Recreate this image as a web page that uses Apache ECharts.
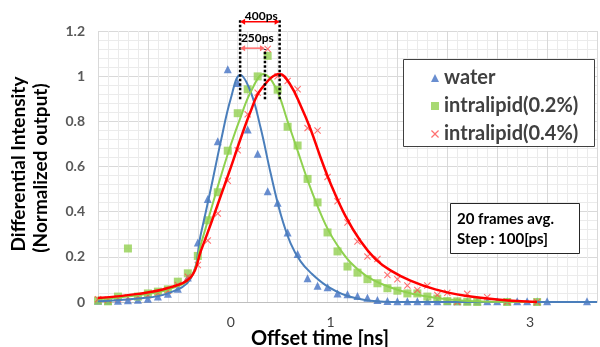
<!DOCTYPE html>
<html>
<head>
<meta charset="utf-8">
<script src="https://cdn.jsdelivr.net/npm/echarts@6/dist/echarts.min.js"></script>
<style>
  html, body { margin: 0; padding: 0; background: #fff; }
  #chart { width: 600px; height: 347px; }
</style>
</head>
<body>
<div id="chart"></div>
<script>
// sample times [ns], one frame every 100 ps
const times = [-1.33, -1.23, -1.13, -1.03, -0.93, -0.83, -0.73, -0.63, -0.53, -0.43,
  -0.33, -0.23, -0.13, -0.03, 0.07, 0.17, 0.27, 0.37, 0.47, 0.57,
  0.67, 0.77, 0.87, 0.97, 1.07, 1.17, 1.27, 1.37, 1.47, 1.57,
  1.67, 1.77, 1.87, 1.97, 2.07, 2.17, 2.27, 2.37, 2.47, 2.57,
  2.67, 2.77, 2.87, 2.97, 3.07, 3.17, 3.27, 3.37, 3.47, 3.57]

// measured points (null = not visible)
const water = [0.005, 0.005, 0.005, 0.008, 0.01, 0.014, 0.024, 0.036, 0.059, 0.108,
  0.264, 0.456, 0.712, 1.031, 0.97, 0.764, 0.657, 0.49, 0.439, 0.308,
  0.213, 0.105, 0.072, 0.065, 0.038, 0.034, 0.027, 0.019, 0.009, 0.004,
  0.003, 0.003, 0.003, 0.003, 0.003, 0.003, 0.003, 0.003, 0.003, 0.003,
  0.003, 0.003, 0.003, 0.003, 0.003, 0.003, null, null, null, 0.003]
const lipid02 = [0.006, 0.003, 0.024, 0.237, 0.024, 0.038, 0.046, 0.056, 0.09, 0.127,
  0.204, 0.362, 0.486, 0.67, 0.836, 0.942, 0.999, 1.09, 0.94, 0.776,
  0.693, 0.545, 0.441, 0.308, 0.224, 0.157, 0.13, 0.101, 0.083, 0.061,
  0.05, 0.038, 0.038, 0.024, 0.015, 0.004, 0.003, 0.001, 0.0, null,
  null, 0.0, null, null, 0.0]
const lipid04 = [0.012, 0.01, 0.015, 0.02, 0.025, 0.03, 0.04, 0.05, 0.075, 0.112,
  0.164, 0.272, 0.392, 0.537, 0.672, 0.831, 0.927, 1.12, 1.0, 0.979,
  0.942, 0.77, 0.759, 0.554, 0.446, 0.352, 0.268, 0.201, 0.19, 0.12,
  0.101, 0.073, 0.053, 0.073, 0.031, 0.041, 0.0, 0.036, null, 0.021,
  null, 0.001, null, null, 0.0]

// fitted curves [time, value]
const waterFit = [[-1.33, 0.003], [-0.93, 0.015], [-0.63, 0.038], [-0.4, 0.105],
  [-0.3, 0.3], [-0.2, 0.5], [-0.1, 0.71], [0.0, 0.9], [0.095, 1.005], [0.2, 0.93],
  [0.3, 0.77], [0.4, 0.57], [0.5, 0.39], [0.6, 0.26], [0.7, 0.18], [0.8, 0.13],
  [0.95, 0.075], [1.15, 0.03], [1.4, 0.006], [1.7, 0.0], [3.67, 0.0]]
const lipid02Fit = [[-1.33, 0.012], [-0.93, 0.03], [-0.63, 0.055], [-0.4, 0.11],
  [-0.3, 0.255], [-0.2, 0.405], [-0.1, 0.555], [0.0, 0.695], [0.1, 0.82], [0.2, 0.93],
  [0.33, 1.01], [0.45, 0.95], [0.57, 0.8], [0.67, 0.67], [0.77, 0.54], [0.87, 0.425],
  [0.97, 0.325], [1.07, 0.25], [1.2, 0.175], [1.35, 0.118], [1.5, 0.082], [1.7, 0.05],
  [1.95, 0.025], [2.2, 0.011], [2.5, 0.002], [3.07, 0.0]]
const lipid04Fit = [[-1.33, 0.018], [-0.93, 0.036], [-0.63, 0.062], [-0.4, 0.11],
  [-0.3, 0.225], [-0.2, 0.345], [-0.1, 0.47], [0.0, 0.595], [0.1, 0.725], [0.2, 0.845],
  [0.3, 0.94], [0.49, 1.01], [0.6, 0.96], [0.7, 0.87], [0.8, 0.765], [0.9, 0.64],
  [1.0, 0.525], [1.15, 0.38], [1.3, 0.27], [1.45, 0.19], [1.6, 0.14], [1.8, 0.095],
  [2.05, 0.056], [2.35, 0.028], [2.7, 0.01], [3.07, 0.0]]

const xTickLabels = [0, 1, 2, 3]
// peak markers: water peak, 250 ps mark, 0.4% peak
const peakTimes = [0.094, 0.343, 0.49]

const FONT = 'Lato, "DejaVu Sans", sans-serif'
const xIcon = 'path://M0,1.1L1.1,0L5,3.9L8.9,0L10,1.1L6.1,5L10,8.9L8.9,10L5,6.1L1.1,10L0,8.9L3.9,5Z'

const pairs = (ys) => times.slice(0, ys.length).map((t, i) => [t, ys[i]]).filter(p => p[1] !== null)

const chart = echarts.init(document.getElementById('chart'))

const fitLine = (data, color, width) => ({
  type: 'line',
  xAxisIndex: 1,
  data,
  smooth: 0.4,
  showSymbol: false,
  symbol: 'none',
  silent: true,
  lineStyle: { color, width },
  z: 3,
})

chart.setOption({
  animation: false,
  grid: { left: 98, top: 31, width: 512.5, height: 271 },
  legend: {
    left: 426, top: 63, orient: 'vertical',
    itemGap: 8, itemWidth: 8, itemHeight: 8, z: 60,
    textStyle: { fontFamily: FONT, fontWeight: 'bold', fontSize: 20, color: '#404040', lineHeight: 20 },
    data: [
      { name: 'water', icon: 'triangle' },
      { name: 'intralipid(0.2%)', icon: 'rect' },
      { name: 'intralipid(0.4%)', icon: xIcon },
    ],
  },
  xAxis: [
    { // grid lines
      type: 'value', min: 0, max: 5, interval: 0.5, position: 'top',
      axisLabel: { show: false }, axisTick: { show: false }, axisLine: { show: false },
      splitLine: { show: true, lineStyle: { color: '#d9d9d9' } },
      minorTick: { show: false, splitNumber: 5 },
      minorSplitLine: { show: true, lineStyle: { color: '#ebebeb' } },
    },
    { // time axis
      type: 'value', min: -1.33, max: 3.67, interval: 0.01, position: 'bottom',
      axisTick: { show: false },
      axisLine: { show: true, lineStyle: { color: '#bfbfbf', width: 1 } },
      splitLine: { show: false },
      axisLabel: {
        interval: 0, margin: 13, color: '#404040', fontSize: 14, fontFamily: FONT,
        formatter: (v) => {
          const r = Math.round(v * 100) / 100
          return xTickLabels.includes(r) ? String(r) : ''
        },
      },
    },
  ],
  yAxis: {
    type: 'value', min: 0, max: 1.2, interval: 0.2,
    axisTick: { show: false }, axisLine: { show: false },
    axisLabel: { margin: 13, color: '#595959', fontSize: 14, fontWeight: 'bold', fontFamily: FONT },
    splitLine: { lineStyle: { color: '#d9d9d9' } },
    minorTick: { show: false, splitNumber: 5 },
    minorSplitLine: { show: true, lineStyle: { color: '#ebebeb' } },
  },
  series: [
    { name: 'water', type: 'scatter', xAxisIndex: 1, data: pairs(water),
      symbol: 'triangle', symbolSize: 8, itemStyle: { color: '#4472c4' }, z: 2 },
    { name: 'intralipid(0.2%)', type: 'scatter', xAxisIndex: 1, data: pairs(lipid02),
      symbol: 'rect', symbolSize: 8, itemStyle: { color: '#92d050' }, z: 2 },
    { name: 'intralipid(0.4%)', type: 'scatter', xAxisIndex: 1, data: pairs(lipid04),
      symbol: xIcon, symbolSize: 7, itemStyle: { color: '#ff4d4d' }, z: 2 },
    fitLine(waterFit, '#4a7ebb', 2),
    fitLine(lipid02Fit, '#8fd14f', 2),
    fitLine(lipid04Fit, '#ff0000', 2.5),
  ],
})

// annotations (peak separations, boxes, axis titles)
const px = (t, y) => chart.convertToPixel({ xAxisIndex: 1, yAxisIndex: 0 }, [t, y])

function arrow(t1, t2, y, color) {
  const a = px(t1, y), b = px(t2, y)
  const h = 3, l = 5
  return [
    { type: 'line', shape: { x1: a[0] + 2, y1: a[1], x2: b[0] - 2, y2: b[1] }, style: { stroke: color, lineWidth: 1.5 }, z: 20 },
    { type: 'polygon', shape: { points: [[a[0], a[1]], [a[0] + l, a[1] - h], [a[0] + l, a[1] + h]] }, style: { fill: color }, z: 20 },
    { type: 'polygon', shape: { points: [[b[0], b[1]], [b[0] - l, b[1] - h], [b[0] - l, b[1] + h]] }, style: { fill: color }, z: 20 },
  ]
}

function dotted(t, y1, y2) {
  const a = px(t, y1), b = px(t, y2)
  return { type: 'line', shape: { x1: a[0], y1: a[1], x2: b[0], y2: b[1] },
    style: { stroke: '#000', lineWidth: 2.5, lineDash: [2.5, 2] }, z: 19 }
}

function label(text, t, y, size) {
  const p = px(t, y)
  return { type: 'text', x: p[0], y: p[1], z: 21,
    style: { text, font: 'bold ' + size + 'px ' + FONT, fill: '#000', align: 'center', verticalAlign: 'middle' } }
}

const graphics = [
  dotted(peakTimes[0], 0.898, 1.249),
  dotted(peakTimes[1], 0.898, 1.12),
  dotted(peakTimes[2], 0.898, 1.249),
  ...arrow(peakTimes[0], peakTimes[2], 1.241, '#ff0000'),
  ...arrow(peakTimes[0], peakTimes[1], 1.124, '#ff6b6b'),
  label('400ps', 0.306, 1.268, 12),
  label('250ps', 0.267, 1.168, 12),
  // legend frame
  { type: 'rect', shape: { x: 403.5, y: 59.5, width: 191, height: 87 },
    style: { fill: '#fff', stroke: '#404040', lineWidth: 1 }, z: 50 },
  // info box
  { type: 'rect', shape: { x: 450.5, y: 203.5, width: 129, height: 50 },
    style: { fill: '#fff', stroke: '#262626', lineWidth: 1 }, z: 50 },
  { type: 'text', x: 457, y: 219, z: 51,
    style: { text: '20 frames avg.', font: 'bold 15px ' + FONT, fill: '#000', verticalAlign: 'middle' } },
  { type: 'text', x: 457, y: 239, z: 51,
    style: { text: 'Step : 100[ps]', font: 'bold 15px ' + FONT, fill: '#000', verticalAlign: 'middle' } },
  // axis titles
  { type: 'text', x: 19, y: 164, rotation: Math.PI / 2, z: 51,
    style: { text: 'Differential Intensity', font: 'bold 19px ' + FONT, fill: '#000', align: 'center', verticalAlign: 'middle' } },
  { type: 'text', x: 41, y: 168, rotation: Math.PI / 2, z: 51,
    style: { text: '(Normalized output)', font: 'bold 19px ' + FONT, fill: '#000', align: 'center', verticalAlign: 'middle' } },
  { type: 'text', x: 320, y: 339, z: 51,
    style: { text: 'Offset time [ns]', font: 'bold 20px ' + FONT, fill: '#000', align: 'center', verticalAlign: 'middle' } },
]

chart.setOption({ graphic: graphics })
</script>
</body>
</html>
